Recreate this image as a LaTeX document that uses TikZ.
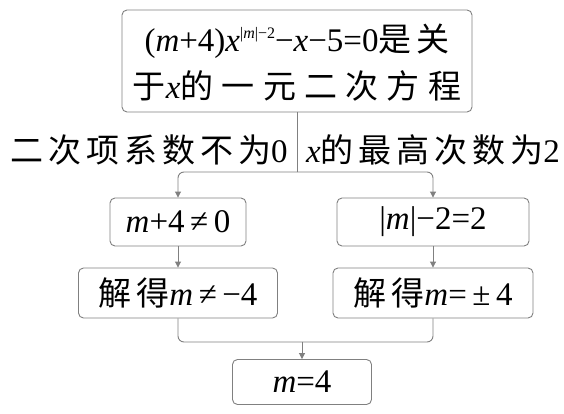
\documentclass[tikz,border=0pt]{standalone}
\usepackage{fontspec}
\setmainfont{Liberation Serif}
\newfontfamily\cjk[LetterSpace=15]{Noto Sans CJK SC}
\newfontfamily\cjkw[LetterSpace=25]{Noto Sans CJK SC}
\newcommand\mi[1]{{\rmfamily\itshape #1}}
\usetikzlibrary{arrows.meta}
\tikzset{
  box/.style={draw=black!50, line width=0.9pt, rounded corners=5pt, inner sep=0pt, align=center},
  conn/.style={draw=black!50, line width=0.9pt},
  arr/.style={conn, -{Triangle[length=6pt,width=6pt]}},
  lab/.style={inner sep=0pt}
}
\begin{document}
\begin{tikzpicture}[x=1pt,y=-1pt]
\useasboundingbox (0,0) rectangle (564,414);
\fill[white] (0,0) rectangle (564,414);
\begin{scope}[font=\fontsize{33}{40}\selectfont]
\node[box, minimum width=350pt, minimum height=102pt] (top) at (297,61) {};
\node[lab] (t1) at (297,41) {(\mi{m}+4)\mi{x}\raisebox{13pt}{\fontsize{16}{16}\selectfont|\mi{m}|−2}−\mi{x}−5=0{\cjk 是关}};
\node[lab] (t2) at (297,86) {{\cjkw 于}\mi{x}{\cjkw 的一元二次方程}};
\node[lab] (la) at (149,150) {{\cjk 二次项系数不为}0};
\node[lab] (lb) at (433,150) {\mi{x}{\cjk 的最高次数为}2};
\node[box, minimum width=136pt, minimum height=48pt] (l1) at (178,222) {\mi{m}+4\,≠\,0};
\node[box, minimum width=192pt, minimum height=48pt] (r1) at (433,222) {|\mi{m}|−2=2};
\node[box, minimum width=199pt, minimum height=50pt] (l2) at (178,293) {{\cjk 解得}\mi{m}\,≠\,−4};
\node[box, minimum width=200pt, minimum height=50pt] (r2) at (433,293) {{\cjk 解得}\mi{m}=\,±\,4};
\node[box, minimum width=139pt, minimum height=45pt] (bot) at (302,382) {\mi{m}=4};
\end{scope}
\coordinate (br) at (297,172);
\coordinate (jn) at (302,342);
\draw[conn] (top.south) -- (br);
\draw[arr, rounded corners=6pt] (br) -| (l1.north);
\draw[arr, rounded corners=6pt] (br) -| (r1.north);
\draw[arr] (l1.south) -- (l2.north);
\draw[arr] (r1.south) -- (r2.north);
\draw[conn, rounded corners=6pt] (l2.south) |- (jn);
\draw[conn, rounded corners=6pt] (r2.south) |- (jn);
\draw[arr] (jn) -- (bot.north);
\end{tikzpicture}
\end{document}
